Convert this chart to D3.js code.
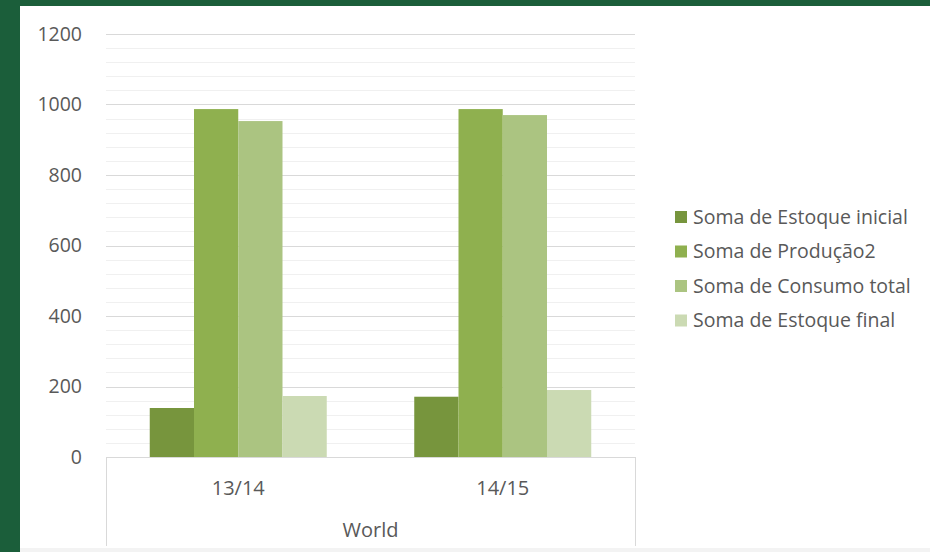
<!DOCTYPE html>
<html>
<head>
<meta charset="utf-8">
<script src="https://cdn.jsdelivr.net/npm/d3@7"></script>
<style>
  html, body { margin: 0; padding: 0; background: #1b5e3a; }
  svg { display: block; }
  text { font-family: "Open Sans", "Noto Sans", sans-serif; fill: #595959; }
</style>
</head>
<body>
<svg id="chart"></svg>
<script>
/* ------------ DATA -------------------------------------------------- */
const categories = ['13/14', '14/15'];
const groupLabel = 'World';
const seriesNames = ['Soma de Estoque inicial', 'Soma de Produção2', 'Soma de Consumo total', 'Soma de Estoque final'];
const estoqueInicial = [139, 171];
const producao = [987, 987];
const consumo = [953, 970];
const estoqueFinal = [173, 190];
const yTicks = [0, 200, 400, 600, 800, 1000, 1200];

const colors = ['#77953d', '#8fb04f', '#abc481', '#cbdab3'];

/* ------------ LAYOUT ------------------------------------------------ */
const W = 930, H = 552;
const plot = { left: 106, right: 635, top: 34, bottom: 457 };

const svg = d3.select('#chart').attr('width', W).attr('height', H);

// white card on green frame, faint grey strip at the very bottom
svg.append('rect').attr('x', 20).attr('y', 6).attr('width', W - 20).attr('height', H - 6).attr('fill', '#f3f3f3');
svg.append('rect').attr('x', 20).attr('y', 6).attr('width', W - 20).attr('height', 542).attr('fill', '#fff');

/* ------------ SCALES ------------------------------------------------ */
const y = d3.scaleLinear().domain([0, 1200]).range([plot.bottom, plot.top]);
const x0 = d3.scaleBand().domain(categories).range([plot.left, plot.right]).paddingInner(0).paddingOuter(0);
const x1 = d3.scaleBand().domain(d3.range(seriesNames.length)).range([0, 177]);
const groupOffset = (x0.bandwidth() - 177) / 2;

/* ------------ GRID -------------------------------------------------- */
const minor = d3.range(0, 1201, 40).filter(v => v % 200 !== 0);
svg.append('g').selectAll('line').data(minor).join('line')
  .attr('x1', plot.left).attr('x2', plot.right)
  .attr('y1', d => Math.round(y(d)) + 0.5).attr('y2', d => Math.round(y(d)) + 0.5)
  .attr('stroke', '#f0f0f0').attr('stroke-width', 1);

svg.append('g').selectAll('line').data(yTicks.filter(v => v > 0)).join('line')
  .attr('x1', plot.left).attr('x2', plot.right)
  .attr('y1', d => Math.round(y(d)) + 0.5).attr('y2', d => Math.round(y(d)) + 0.5)
  .attr('stroke', '#d9d9d9').attr('stroke-width', 1);

/* ------------ Y AXIS LABELS ----------------------------------------- */
svg.append('g').selectAll('text').data(yTicks).join('text')
  .attr('x', 82).attr('y', d => y(d))
  .attr('dy', '0.35em').attr('text-anchor', 'end')
  .style('font-size', '19.5px')
  .text(d => d);

/* ------------ BARS -------------------------------------------------- */
const series = [estoqueInicial, producao, consumo, estoqueFinal];
const rows = categories.map((c, i) => ({ cat: c, vals: series.map(s => s[i]) }));

svg.append('g').selectAll('g').data(rows).join('g')
  .attr('transform', d => `translate(${x0(d.cat) + groupOffset},0)`)
  .selectAll('rect').data(d => d.vals.map((v, k) => ({ v, k }))).join('rect')
  .attr('x', d => x1(d.k))
  .attr('width', x1.bandwidth())
  .attr('y', d => y(d.v))
  .attr('height', d => y(0) - y(d.v))
  .attr('fill', d => colors[d.k]);

/* ------------ CATEGORY AXIS ----------------------------------------- */
svg.append('line')
  .attr('x1', plot.left).attr('x2', plot.right)
  .attr('y1', plot.bottom + 0.5).attr('y2', plot.bottom + 0.5)
  .attr('stroke', '#d9d9d9');
[plot.left, plot.right].forEach(xv => {
  svg.append('line')
    .attr('x1', xv + 0.5).attr('x2', xv + 0.5)
    .attr('y1', plot.bottom).attr('y2', 546)
    .attr('stroke', '#d9d9d9');
});

svg.append('g').selectAll('text').data(categories).join('text')
  .attr('x', d => x0(d) + x0.bandwidth() / 2).attr('y', 488)
  .attr('dy', '0.35em').attr('text-anchor', 'middle')
  .style('font-size', '20px')
  .text(d => d);

svg.append('text')
  .attr('x', (plot.left + plot.right) / 2).attr('y', 530)
  .attr('dy', '0.35em').attr('text-anchor', 'middle')
  .style('font-size', '20px')
  .text(groupLabel);

/* ------------ LEGEND ------------------------------------------------ */
const legend = svg.append('g').attr('transform', 'translate(675,217)');
const item = legend.selectAll('g').data(seriesNames).join('g')
  .attr('transform', (d, i) => `translate(0,${i * 34.5})`);
item.append('rect').attr('x', 0).attr('y', -6).attr('width', 12).attr('height', 12)
  .attr('fill', (d, i) => colors[i]);
item.append('text').attr('x', 18).attr('dy', '0.35em')
  .style('font-size', '19.5px')
  .text(d => d);
</script>
</body>
</html>
